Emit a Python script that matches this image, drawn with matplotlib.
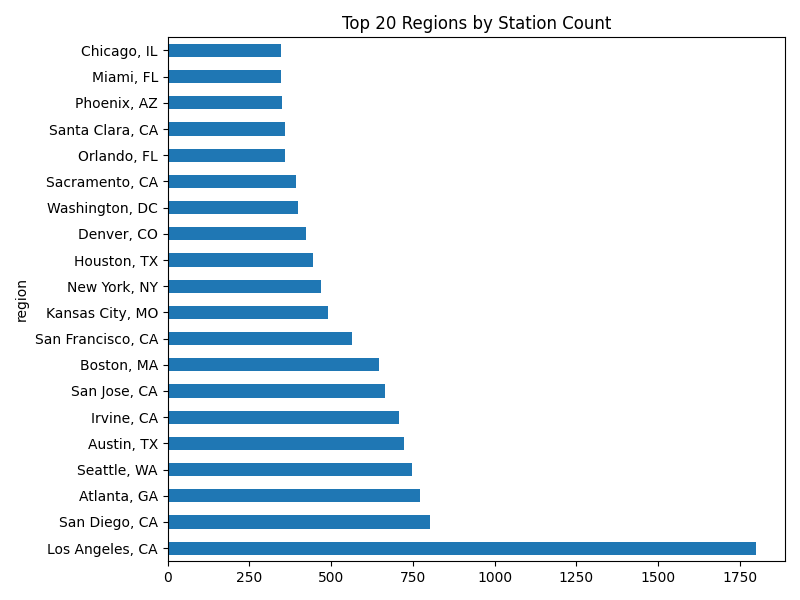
import matplotlib.pyplot as plt

regions = ['Los Angeles, CA', 'San Diego, CA', 'Atlanta, GA', 'Seattle, WA', 'Austin, TX',
           'Irvine, CA', 'San Jose, CA', 'Boston, MA', 'San Francisco, CA', 'Kansas City, MO',
           'New York, NY', 'Houston, TX', 'Denver, CO', 'Washington, DC', 'Sacramento, CA',
           'Orlando, FL', 'Santa Clara, CA', 'Phoenix, AZ', 'Miami, FL', 'Chicago, IL']
counts = [1798, 801, 771, 746, 722, 709, 664, 645, 563, 489,
          468, 446, 422, 398, 394, 358, 358, 349, 346, 346]

fig, ax = plt.subplots(figsize=(8, 6))
pos = range(len(regions))
ax.barh(pos, counts, height=0.5, color='#1f77b4')
ax.set_yticks(list(pos))
ax.set_yticklabels(regions)
ax.set_ylim(-0.5, len(regions) - 0.5)
ax.set_ylabel('region')
ax.set_title('Top 20 Regions by Station Count')
plt.tight_layout()
plt.savefig('out.png', dpi=100)
